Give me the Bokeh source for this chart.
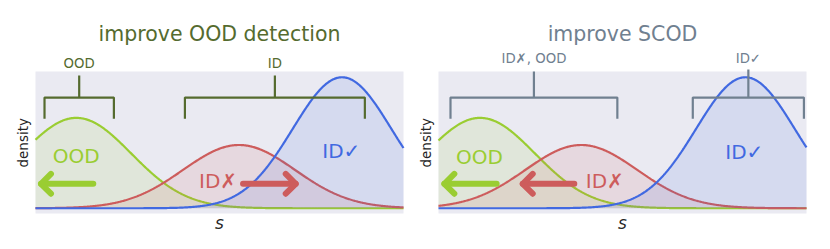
import numpy as np
from bokeh.plotting import figure
from bokeh.layouts import row
from bokeh.models import Range1d
from bokeh.core.properties import value
from bokeh.embed import file_html
from bokeh.resources import INLINE

# ---------------- data ----------------
x_min, x_max = 0.0, 10.0          # extent of the shaded axes area
y_min, y_max = -0.04, 1.044

dist_names = ["OOD", "ID✗", "ID✓"]
dist_sd = [1.49, 1.52, 1.34]
dist_peak = [0.69, 0.483, 1.0]
left_means = [1.11, 5.53, 8.33]
right_means = [1.13, 3.88, 8.34]

left_label_x = [1.106, 4.96, 8.31]
left_label_y = [0.338, 0.147, 0.376]
right_label_x = [1.11, 4.52, 8.31]
right_label_y = [0.333, 0.147, 0.371]

left_arrow_tail = [1.57, 5.64]
left_arrow_tip = [0.15, 7.07]
left_arrow_color = [0, 1]
right_arrow_tail = [1.58, 3.69]
right_arrow_tip = [0.16, 2.29]
right_arrow_color = [0, 1]
arrow_y = 0.187

left_br_lo = [0.245, 4.06]
left_br_hi = [2.13, 8.95]
left_br_text = ["OOD", "ID"]
left_br_top = [1.013, 1.013]
right_br_lo = [0.326, 6.91]
right_br_hi = [4.86, 9.93]
right_br_text = ["ID✗, OOD", "ID✓"]
right_br_top = [1.044, 1.06]
br_bar_y = 0.845
br_end_y = 0.683
left_br_label_y = 1.065
right_br_label_y = 1.107

titles = ["improve OOD detection", "improve SCOD"]
title_y = 1.272
ylabel_text, ylabel_x, ylabel_y = "density", -0.35, 0.50
xlabel_text, xlabel_x, xlabel_y = "s", 5.0, -0.164

# ---------------- styles / geometry ----------------
COLORS = ["#9acd32", "#cd5c5c", "#4169e1"]
FONT = "DejaVu Sans"
BG = "#eaeaf2"
TXT = "#262626"
PX = 36.8     # pixels per x unit
PY = 131.0    # pixels per y unit
FIG_H = 245
TOP_PAD = 71  # pixels above shaded area
BASE_FIX = 0.38  # em: renderer places the alphabetic baseline this much lower


def put_text(p, x, y, txt, color, size, **kw):
    p.text(x=[x], y=[y + BASE_FIX * size / PY], text=[txt], text_color=color,
           text_font=value(FONT), text_font_size=f"{size}px",
           text_align="center", text_baseline="alphabetic", **kw)


def make_panel(fig_w, pad_left, means, lab_x, lab_y, a_tail, a_tip, a_col,
               br_lo, br_hi, br_text, br_top, br_label_y, title, accent):
    x0 = x_min - pad_left / PX
    x1 = x0 + fig_w / PX
    y1 = y_max + TOP_PAD / PY
    y0 = y1 - FIG_H / PY
    p = figure(frame_width=fig_w, frame_height=FIG_H,
               x_range=Range1d(x0, x1), y_range=Range1d(y0, y1),
               x_axis_location=None, y_axis_location=None,
               min_border=0, output_backend="svg", toolbar_location=None)
    p.outline_line_color = None
    p.background_fill_color = "white"
    p.border_fill_color = "white"
    p.grid.visible = False

    p.quad(left=[x_min], right=[x_max], bottom=[y_min], top=[y_max],
           fill_color=BG, line_color=None)

    xs = np.linspace(x_min, x_max, 500)
    for i in range(3):
        ys = dist_peak[i] * np.exp(-0.5 * ((xs - means[i]) / dist_sd[i]) ** 2)
        p.varea(x=xs, y1=np.zeros_like(xs), y2=ys, fill_color=COLORS[i], fill_alpha=0.12)
        p.line(xs, ys, line_color=COLORS[i], line_width=2.2)

    for i in range(3):
        put_text(p, lab_x[i], lab_y[i], dist_names[i], COLORS[i], 20)

    hx, hy = 0.27, 0.076
    for t0, t1, ci in zip(a_tail, a_tip, a_col):
        sgn = 1 if t1 < t0 else -1
        p.multi_line(xs=[[t0, t1], [t1 + sgn * hx, t1, t1 + sgn * hx]],
                     ys=[[arrow_y, arrow_y], [arrow_y + hy, arrow_y, arrow_y - hy]],
                     line_color=COLORS[ci], line_width=6, line_cap="round",
                     line_join="round")

    for lo, hi, txt, top in zip(br_lo, br_hi, br_text, br_top):
        mid = (lo + hi) / 2
        p.line(x=[lo, lo, hi, hi], y=[br_end_y, br_bar_y, br_bar_y, br_end_y],
               line_color=accent, line_width=2.2)
        p.line(x=[mid, mid], y=[br_bar_y, top], line_color=accent, line_width=2.2)
        put_text(p, mid, br_label_y, txt, accent, 13.3)

    put_text(p, (x_min + x_max) / 2, title_y, title, accent, 20.5)
    p.text(x=[ylabel_x], y=[ylabel_y], text=[ylabel_text], angle=np.pi / 2,
           text_color=TXT, text_font=value(FONT), text_font_size="13.5px",
           text_align="center", text_baseline="middle")
    put_text(p, xlabel_x, xlabel_y, xlabel_text, TXT, 17, text_font_style="italic")
    return p


p1 = make_panel(415, 35, left_means, left_label_x, left_label_y, left_arrow_tail,
                left_arrow_tip, left_arrow_color, left_br_lo, left_br_hi, left_br_text,
                left_br_top, left_br_label_y, titles[0], "#556b2f")
p2 = make_panel(415, 23, right_means, right_label_x, right_label_y, right_arrow_tail,
                right_arrow_tip, right_arrow_color, right_br_lo, right_br_hi,
                right_br_text, right_br_top, right_br_label_y, titles[1], "#708090")

layout = row(p1, p2, spacing=0)
open("out.html", "w").write(file_html(layout, INLINE))
